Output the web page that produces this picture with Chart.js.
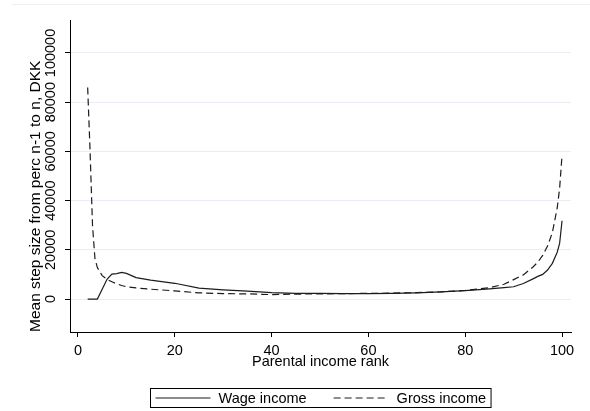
<!DOCTYPE html>
<html>
<head>
<meta charset="utf-8">
<script src="https://cdn.jsdelivr.net/npm/chart.js@4"></script>
<style>
html, body { margin: 0; padding: 0; background: #fff; }
#wrap { width: 590px; height: 411px; position: relative; }
</style>
</head>
<body>
<div id="wrap"><canvas id="chart"></canvas></div>
<script>
"use strict";

// parental income rank (percentile) and mean step size
var rank = [2, 2.5, 3, 3.5, 4, 5, 6, 7, 8, 9, 10, 12, 15, 20, 25, 30, 35, 40, 45, 50,
    55, 60, 65, 70, 75, 80, 85, 88, 90, 92, 94, 95, 96, 97, 98, 99, 99.5, 100];
var wageIncome = [0, 0, 0, 0, 0, 4000, 8000, 10100, 10300, 10800, 10400, 8700, 7700, 6400, 4400, 3700, 3200, 2600, 2300, 2300,
    2200, 2200, 2300, 2500, 2900, 3400, 4100, 4600, 5000, 6300, 8200, 9200, 10000, 11800, 14500, 19000, 22600, 31800];
var grossIncome = [86000, 60000, 30000, 16500, 12800, 9500, 8000, 7000, 6200, 5500, 5000, 4500, 4000, 3300, 2500, 2200, 2100, 1800, 2000, 2100,
    2200, 2300, 2400, 2600, 2900, 3500, 4600, 6000, 7900, 9800, 13000, 15000, 17700, 21500, 27000, 37000, 45000, 58500];

var xTicks = [0, 20, 40, 60, 80, 100];
var yTicks = [0, 20000, 40000, 60000, 80000, 100000];

var FONT = "Liberation Sans";

function points(values) {
    return rank.map(function (r, i) {
        return { x: r, y: values[i] };
    });
}

// y tick labels are drawn turned on their side
var yTickLabels = {
    id: "yTickLabels",
    afterDraw: function (chart) {
        var scale = chart.scales.y;
        var ctx = chart.ctx;
        ctx.save();
        ctx.font = "14.5px '" + FONT + "'";
        ctx.fillStyle = "#000";
        ctx.textAlign = "center";
        ctx.textBaseline = "middle";
        scale.ticks.forEach(function (tick) {
            ctx.save();
            ctx.translate(scale.right - 19, scale.getPixelForValue(tick.value));
            ctx.rotate(-Math.PI / 2);
            ctx.fillText(String(tick.value), 0, 0);
            ctx.restore();
        });
        ctx.restore();
    }
};

// boxed legend below the axis title
var boxedLegend = {
    id: "boxedLegend",
    beforeDraw: function (chart) {
        var ctx = chart.ctx;
        ctx.save();
        ctx.strokeStyle = "#eceff4";
        ctx.lineWidth = 1;
        ctx.beginPath();
        ctx.moveTo(12, 4.5);
        ctx.lineTo(590, 4.5);
        ctx.stroke();
        ctx.restore();
    },
    afterDraw: function (chart) {
        var ctx = chart.ctx;
        var area = chart.chartArea;
        var sample = 55, gap = 8, between = 27, pad = 5;
        ctx.save();
        ctx.font = "14.5px '" + FONT + "'";
        var sets = chart.data.datasets;
        var width = pad * 2 + between * (sets.length - 1);
        sets.forEach(function (ds) {
            width += sample + gap + ctx.measureText(ds.label).width;
        });
        var left = Math.round((area.left + area.right) / 2 - width / 2) + 0.5;
        var top = 388.5, height = 19, mid = top + height / 2;
        ctx.strokeStyle = "#000";
        ctx.lineWidth = 1;
        ctx.strokeRect(left, top, width, height);
        var x = left + pad;
        ctx.textBaseline = "middle";
        ctx.fillStyle = "#000";
        sets.forEach(function (ds) {
            ctx.beginPath();
            ctx.setLineDash(ds.borderDash || []);
            ctx.strokeStyle = ds.borderColor;
            ctx.lineWidth = ds.borderWidth;
            ctx.moveTo(x, mid);
            ctx.lineTo(x + sample, mid);
            ctx.stroke();
            ctx.setLineDash([]);
            x += sample + gap;
            ctx.fillText(ds.label, x, mid + 0.5);
            x += ctx.measureText(ds.label).width + between;
        });
        ctx.restore();
    }
};

new Chart(document.getElementById("chart"), {
    type: "line",
    data: {
        datasets: [{
            label: "Wage income",
            data: points(wageIncome),
            borderColor: "#1c1c1c",
            borderWidth: 1.2,
            pointRadius: 0,
            tension: 0
        }, {
            label: "Gross income",
            data: points(grossIncome),
            borderColor: "#1c1c1c",
            borderWidth: 1.2,
            borderDash: [7, 4],
            pointRadius: 0,
            tension: 0
        }]
    },
    options: {
        responsive: true,
        maintainAspectRatio: false,
        animation: false,
        layout: {
            padding: { left: 20, right: 19, top: 20, bottom: 40 }
        },
        plugins: {
            legend: { display: false },
            tooltip: { enabled: false }
        },
        scales: {
            x: {
                type: "linear",
                min: -1.65,
                max: 101.85,
                afterBuildTicks: function (scale) {
                    scale.ticks = xTicks.map(function (v) { return { value: v }; });
                },
                afterFit: function (scale) {
                    scale.height = 39;
                },
                ticks: {
                    color: "#000",
                    padding: 5,
                    maxRotation: 0,
                    autoSkip: false,
                    font: { family: FONT, size: 14.5 }
                },
                grid: {
                    drawOnChartArea: false,
                    tickLength: 5,
                    tickColor: "#000"
                },
                border: { color: "#000", width: 1 },
                title: {
                    display: true,
                    text: "Parental income rank",
                    color: "#000",
                    padding: { top: 0, bottom: 0 },
                    font: { family: FONT, size: 14.5 }
                }
            },
            y: {
                min: -13400,
                max: 113400,
                afterBuildTicks: function (scale) {
                    scale.ticks = yTicks.map(function (v) { return { value: v }; });
                },
                afterFit: function (scale) {
                    scale.width = 50;
                },
                ticks: { display: false },
                grid: {
                    color: "#e9eef5",
                    tickLength: 5,
                    tickColor: "#000"
                },
                border: { color: "#000", width: 1 },
                title: {
                    display: true,
                    text: "Mean step size from perc n-1 to n, DKK",
                    align: "start",
                    color: "#000",
                    padding: { top: 6, bottom: 0 },
                    font: { family: FONT, size: 15.5 }
                }
            }
        }
    },
    plugins: [yTickLabels, boxedLegend]
});
</script>
</body>
</html>
